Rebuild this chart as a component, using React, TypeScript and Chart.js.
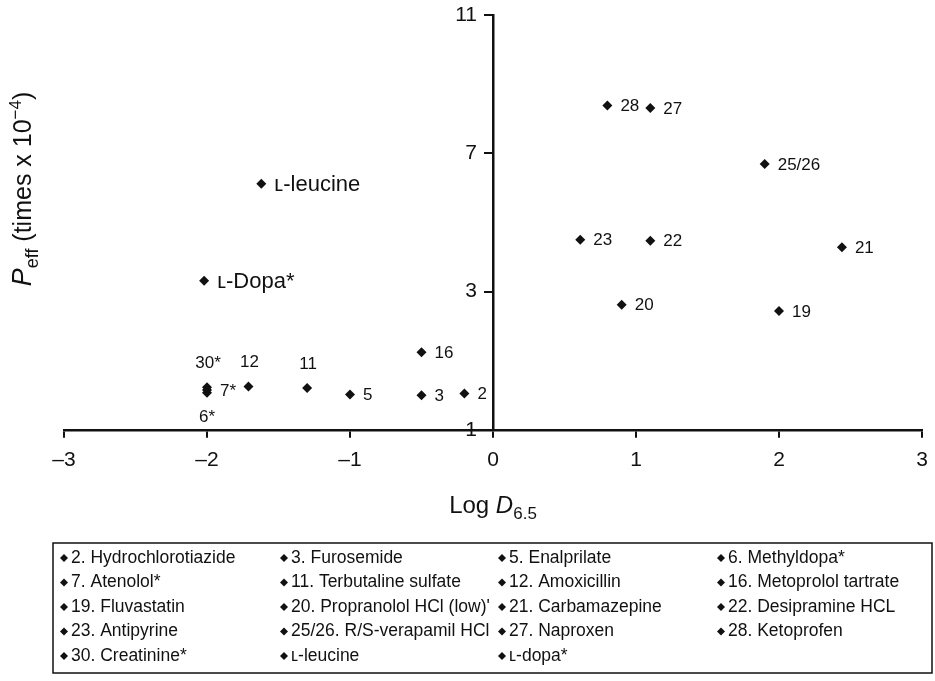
import React, { useEffect, useRef } from 'react';
import { Chart, registerables } from 'chart.js';

Chart.register(...registerables);

// Log D(6.5) values
const logD = [-0.2, -0.5, -1.0, -2.0, -2.0, -1.3, -1.71, -0.5, 2.0, 0.9, 2.44, 1.1, 0.61, 1.9, 1.1, 0.8, -2.0, -1.62, -2.02];
// Peff (x 10^-4)
const peff = [0.05, 0.0, 0.02, 0.07, 0.15, 0.21, 0.25, 1.24, 2.44, 2.62, 4.28, 4.47, 4.5, 6.69, 8.31, 8.38, 0.23, 6.12, 3.31];
const pointLabels = ['2', '3', '5', '6*', '7*', '11', '12', '16', '19', '20', '21', '22', '23', '25/26', '27', '28', '30*', 'ʟ-leucine', 'ʟ-Dopa*'];
const labelPlacement = ['right', 'right', 'right', 'below', 'right', 'above', 'above', 'right', 'right', 'right', 'right', 'right', 'right', 'right', 'right', 'right', 'above', 'right', 'right'];

const xTicks = [-3, -2, -1, 0, 1, 2, 3];
const yTicks = [-1, 3, 7, 11];

const legendRow1 = ['2. Hydrochlorotiazide', '3. Furosemide', '5. Enalprilate', '6. Methyldopa*'];
const legendRow2 = ['7. Atenolol*', '11. Terbutaline sulfate', '12. Amoxicillin', '16. Metoprolol tartrate'];
const legendRow3 = ['19. Fluvastatin', "20. Propranolol HCl (low)'", '21. Carbamazepine', '22. Desipramine HCL'];
const legendRow4 = ['23. Antipyrine', '25/26. R/S-verapamil HCl', '27. Naproxen', '28. Ketoprofen'];
const legendRow5 = ['30. Creatinine*', 'ʟ-leucine', 'ʟ-dopa*'];

const FONT = '"Liberation Sans", Arial, Helvetica, sans-serif';
const INK = '#111';

function diamond(ctx: CanvasRenderingContext2D, x: number, y: number, r: number) {
  ctx.beginPath();
  ctx.moveTo(x, y - r);
  ctx.lineTo(x + r, y);
  ctx.lineTo(x, y + r);
  ctx.lineTo(x - r, y);
  ctx.closePath();
  ctx.fill();
}

function zeroPadding(s: any) {
  s.paddingTop = 0;
  s.paddingBottom = 0;
  s.paddingLeft = 0;
  s.paddingRight = 0;
}

const annotPlugin = {
  id: 'annot',
  afterDraw(chart: any) {
    const ctx: CanvasRenderingContext2D = chart.ctx;
    const meta = chart.getDatasetMeta(0);
    ctx.save();
    ctx.fillStyle = INK;

    // point labels
    meta.data.forEach((pt: any, i: number) => {
      const lab = pointLabels[i];
      const place = labelPlacement[i];
      const big = lab.startsWith('ʟ');
      ctx.font = `${big ? 22 : 17}px ${FONT}`;
      ctx.textBaseline = 'middle';
      if (place === 'right') {
        ctx.textAlign = 'left';
        ctx.fillText(lab, pt.x + 13, pt.y + 1);
      } else if (place === 'above') {
        ctx.textAlign = 'center';
        ctx.fillText(lab, pt.x + 1, pt.y - 24);
      } else {
        ctx.textAlign = 'center';
        ctx.fillText(lab, pt.x, pt.y + 24);
      }
    });

    // x axis title: Log D6.5
    {
      const parts = [
        { t: 'Log ', f: `24px ${FONT}`, dy: 0 },
        { t: 'D', f: `italic 24px ${FONT}`, dy: 0 },
        { t: '6.5', f: `17px ${FONT}`, dy: 6 },
      ];
      let w = 0;
      parts.forEach(p => { ctx.font = p.f; w += ctx.measureText(p.t).width; });
      const cx = chart.scales.x.getPixelForValue(0);
      let x = cx - w / 2;
      const y = 513;
      ctx.textAlign = 'left';
      ctx.textBaseline = 'alphabetic';
      parts.forEach(p => { ctx.font = p.f; ctx.fillText(p.t, x, y + p.dy); x += ctx.measureText(p.t).width; });
    }

    // y axis title: Peff (times x 10^-4)
    {
      const parts = [
        { t: 'P', f: `italic 27px ${FONT}`, dy: 0 },
        { t: 'eff', f: `18px ${FONT}`, dy: 7 },
        { t: ' (times x 10', f: `25px ${FONT}`, dy: 0 },
        { t: '\u22124', f: `17px ${FONT}`, dy: -10 },
        { t: ')', f: `25px ${FONT}`, dy: 0 },
      ];
      let w = 0;
      parts.forEach(p => { ctx.font = p.f; w += ctx.measureText(p.t).width; });
      ctx.save();
      ctx.translate(31, 189);
      ctx.rotate(-Math.PI / 2);
      let x = -w / 2;
      ctx.textAlign = 'left';
      ctx.textBaseline = 'alphabetic';
      parts.forEach(p => { ctx.font = p.f; ctx.fillText(p.t, x, p.dy); x += ctx.measureText(p.t).width; });
      ctx.restore();
    }

    // legend box
    {
      const bx = 53, by = 543, bw = 879, bh = 130;
      ctx.strokeStyle = INK;
      ctx.lineWidth = 1.5;
      ctx.strokeRect(bx, by, bw, bh);
      const rows = [legendRow1, legendRow2, legendRow3, legendRow4, legendRow5];
      const colX = [64, 284, 502, 721];
      const rowY0 = 557, rowDy = 24.5;
      ctx.font = `17.5px ${FONT}`;
      ctx.textAlign = 'left';
      ctx.textBaseline = 'middle';
      rows.forEach((row, r) => {
        row.forEach((txt, c) => {
          const y = rowY0 + r * rowDy;
          diamond(ctx, colX[c], y + 1, 4);
          ctx.fillText(txt, colX[c] + 7, y + 1);
        });
      });
    }
    ctx.restore();
  },
};

export default function App() {
  const ref = useRef<HTMLCanvasElement | null>(null);
  useEffect(() => {
    document.body.style.margin = '0';
    const canvas = ref.current!;
    const chart = new Chart(canvas, {
      type: 'scatter',
      data: {
        datasets: [
          {
            data: logD.map((x, i) => ({ x, y: peff[i] })),
            pointStyle: 'rectRot',
            pointRadius: 5,
            pointBackgroundColor: INK,
            pointBorderColor: INK,
            pointBorderWidth: 0,
          },
        ],
      },
      options: {
        animation: false,
        responsive: false,
        devicePixelRatio: 1,
        layout: { padding: { left: 64, right: 13, top: 15, bottom: 198 } },
        plugins: { legend: { display: false }, tooltip: { enabled: false } },
        scales: {
          x: {
            type: 'linear',
            position: 'bottom',
            min: -3,
            max: 3,
            afterFit: zeroPadding,
            afterBuildTicks: (s: any) => { s.ticks = xTicks.map(v => ({ value: v })); },
            ticks: {
              font: { family: FONT, size: 21 },
              color: INK,
              padding: 10,
              callback: (v: any) => (Number(v) < 0 ? '\u2013' + Math.abs(Number(v)) : String(v)),
            },
            grid: { drawOnChartArea: false, drawTicks: true, tickLength: 8, color: INK, lineWidth: 2 },
            border: { display: true, color: INK, width: 2.5 },
          },
          y: {
            type: 'linear',
            position: 'center',
            min: -1,
            max: 11,
            afterFit: zeroPadding,
            afterBuildTicks: (s: any) => { s.ticks = yTicks.map(v => ({ value: v })); },
            ticks: {
              font: { family: FONT, size: 21 },
              color: INK,
              padding: 8,
              callback: (v: any) => String(v),
            },
            grid: { drawOnChartArea: false, drawTicks: true, tickLength: 8, color: INK, lineWidth: 2 },
            border: { display: true, color: INK, width: 2.5 },
          },
        },
      },
      plugins: [annotPlugin],
    });
    return () => chart.destroy();
  }, []);
  return <canvas ref={ref} width={935} height={681} style={{ display: 'block' }} />;
}
